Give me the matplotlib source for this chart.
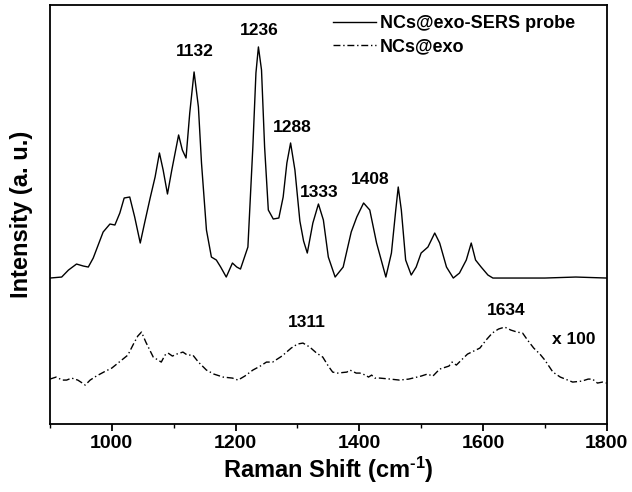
import matplotlib
matplotlib.use('Agg')
import matplotlib.pyplot as plt

plt.rcParams['font.family'] = ['Liberation Sans', 'DejaVu Sans']
plt.rcParams['font.weight'] = 'bold'
plt.rcParams['mathtext.fontset'] = 'custom'
plt.rcParams['mathtext.rm'] = 'Liberation Sans:bold'
plt.rcParams['mathtext.default'] = 'regular'

# Raman shift (cm-1) and intensity (a.u., arbitrary offset)
probe_x = [900, 919, 930, 943, 954, 962, 970, 986, 997, 1005, 1013, 1020, 1029, 1037,
           1046, 1053, 1062, 1070, 1077, 1083, 1090, 1097, 1108, 1114, 1120, 1126, 1133,
           1140, 1145, 1153, 1161, 1169, 1176, 1185, 1195, 1202, 1208, 1220, 1228, 1233,
           1237, 1242, 1247, 1253, 1261, 1270, 1277, 1283, 1289, 1296, 1304, 1310, 1316,
           1325, 1334, 1342, 1350, 1361, 1374, 1387, 1396, 1407, 1417, 1428, 1443, 1452,
           1459, 1463, 1468, 1475, 1484, 1492, 1500, 1511, 1522, 1530, 1541, 1552, 1562,
           1573, 1581, 1588, 1597, 1608, 1616, 1650, 1700, 1750, 1800]
probe_y = [146, 147, 154, 160, 158, 157, 166, 192, 200, 199, 211, 226, 227, 207,
           181, 201, 226, 247, 271, 254, 230, 254, 289, 274, 266, 311, 352,
           317, 261, 194, 167, 164, 157, 147, 161, 157, 155, 177, 277, 351,
           377, 354, 277, 214, 205, 206, 227, 261, 281, 254, 203, 183, 171,
           201, 220, 204, 167, 147, 157, 192, 207, 221, 214, 181, 147, 171,
           214, 237, 214, 164, 149, 157, 171, 177, 191, 181, 157, 146, 151,
           164, 181, 164, 157, 149, 146, 146, 146, 147, 146]

exo_x = [900, 910, 920, 927, 935, 945, 950, 957, 965, 975, 990, 1000, 1010, 1020, 1026,
         1035, 1042, 1048, 1055, 1067, 1080, 1086, 1091, 1098, 1105, 1115, 1122, 1131,
         1140, 1153, 1165, 1180, 1195, 1204, 1215, 1228, 1240, 1250, 1260, 1275, 1290,
         1300, 1309, 1320, 1331, 1341, 1350, 1357, 1365, 1380, 1385, 1395, 1401, 1410,
         1415, 1420, 1425, 1433, 1450, 1465, 1480, 1500, 1510, 1519, 1530, 1545, 1550,
         1557, 1565, 1575, 1585, 1595, 1605, 1615, 1625, 1635, 1645, 1655, 1664, 1672,
         1682, 1692, 1700, 1713, 1725, 1745, 1760, 1770, 1777, 1785, 1793, 1800]
exo_y = [45, 47, 44, 44, 46, 44, 42, 39, 44, 48, 53, 56, 61, 66, 69,
         80, 88, 92, 82, 67, 62, 69, 71, 68, 70, 72, 69, 69,
         62, 54, 50, 47, 46, 44, 48, 54, 58, 62, 62, 68, 76,
         80, 81, 77, 71, 67, 58, 52, 51, 52, 54, 51, 51, 49,
         47, 49, 46, 46, 45, 44, 45, 48, 50, 48, 55, 58, 62,
         59, 64, 70, 73, 76, 84, 91, 95, 97, 94, 92, 91, 84,
         76, 70, 64, 52, 47, 42, 43, 45, 45, 41, 42, 41]

peak_labels = ['1132', '1236', '1288', '1333', '1408', '1311', '1634']
peak_pos = [(1134, 372), (1238, 393), (1291, 296), (1336, 232), (1417, 244),
            (1315, 102), (1638, 114)]

fig = plt.figure(figsize=(6.32, 4.92), dpi=100)
ax = fig.add_axes([0.079, 0.138, 0.881, 0.852])

ax.plot(probe_x, probe_y, color='black', lw=1.0, label='NCs@exo-SERS probe')
ax.plot(exo_x, exo_y, color='black', lw=1.0, linestyle=(0, (5, 2, 1, 2)), label='NCs@exo')

for lab, (px, py) in zip(peak_labels, peak_pos):
    ax.text(px, py, lab, ha='center', va='center', fontsize=12.5, fontweight='bold')
ax.text(1747, 85, 'x 100', ha='center', va='center', fontsize=12.5, fontweight='bold')

ax.set_xlim(900, 1800)
ax.set_ylim(0, 419)
ax.set_xticks([1000, 1200, 1400, 1600, 1800])
ax.set_xticks(range(900, 1801, 100), minor=True)
ax.set_yticks([])
ax.tick_params(axis='x', which='major', direction='out', length=5, width=1.3,
               labelsize=14, pad=3)
ax.tick_params(axis='x', which='minor', direction='out', length=3, width=1.0)
for s in ax.spines.values():
    s.set_linewidth(1.3)

ax.set_xlabel('Raman Shift (cm$^{\\text{-1}}$)', fontsize=17, fontweight='bold', labelpad=2)
ax.set_ylabel('Intensity (a. u.)', fontsize=17, fontweight='bold', labelpad=12)

ax.legend(loc='upper left', bbox_to_anchor=(0.508, 0.975), frameon=False,
          handlelength=2.4, handletextpad=0.2, labelspacing=0.35, borderpad=0,
          borderaxespad=0, prop={'weight': 'bold', 'size': 13})

fig.savefig('out.png', dpi=100)
